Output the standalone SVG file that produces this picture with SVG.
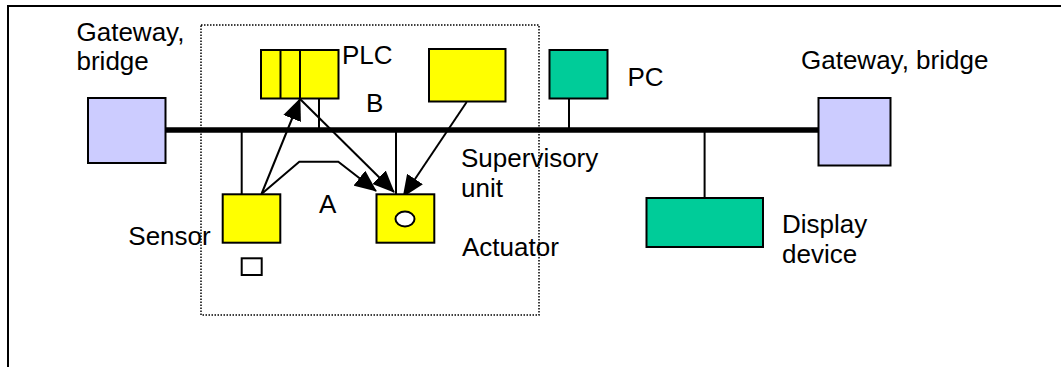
<svg xmlns="http://www.w3.org/2000/svg" width="1061" height="367" viewBox="0 0 1061 367">
  <style>
    text { font-family: "Liberation Sans", Arial, sans-serif; font-size: 26px; fill: #000; }
    .box { stroke: #000; stroke-width: 2; }
    .yellow { fill: #FFFF00; }
    .green { fill: #00CC99; }
    .gw { fill: #CCCCFF; }
    .wire { stroke: #000; stroke-width: 2; fill: none; }
    .arrow { stroke: #000; stroke-width: 2; fill: none; marker-end: url(#head); }
    .bus { stroke: #000; stroke-width: 5.5; }
  </style>
  <defs>
    <marker id="head" markerUnits="userSpaceOnUse" viewBox="0 0 22 19" refX="21" refY="9.5" markerWidth="22" markerHeight="19" orient="auto">
      <path d="M0,0 L22,9.5 L0,19 z" fill="#000"/>
    </marker>
  </defs>
  <rect width="1061" height="367" fill="#fff"/>
  <g id="frame">
    <rect x="8" y="6" width="1100" height="420" fill="none" stroke="#000" stroke-width="2"/>
  </g>
  <g id="domain">
    <rect x="201" y="25" width="338" height="290" fill="none" stroke="#000" stroke-width="1.5" stroke-dasharray="1.5 1.5"/>
  </g>
  <g id="connectors">
    <line class="bus" x1="165" y1="130" x2="819" y2="130"/>
    <line class="wire" x1="241.7" y1="130" x2="241.7" y2="194"/>
    <line class="wire" x1="319" y1="98" x2="319" y2="130"/>
    <line class="wire" x1="396" y1="130" x2="396" y2="194"/>
    <line class="wire" x1="569" y1="99" x2="569" y2="130"/>
    <line class="wire" x1="704.6" y1="130" x2="704.6" y2="198"/>
    <line class="arrow" x1="261.5" y1="194" x2="300" y2="99"/>
    <line class="arrow" x1="300" y1="99" x2="394" y2="192"/>
    <polyline class="arrow" points="261.5,194 299.3,161.7 338.3,161.7 376,191"/>
    <line class="arrow" x1="466.7" y1="102" x2="403.3" y2="196.5"/>
  </g>
  <g id="gateway-left">
    <rect class="box gw" x="88" y="98" width="77.5" height="65"/>
    <text x="76.5" y="41">Gateway,</text>
    <text x="76.5" y="70">bridge</text>
  </g>
  <g id="gateway-right">
    <rect class="box gw" x="818.5" y="98" width="72" height="67.5"/>
    <text x="801" y="68.5">Gateway, bridge</text>
  </g>
  <g id="plc">
    <rect class="box yellow" x="261" y="50" width="77.5" height="48.5"/>
    <line class="wire" x1="280.5" y1="50" x2="280.5" y2="98.5"/>
    <line class="wire" x1="300" y1="50" x2="300" y2="98.5"/>
    <text x="342" y="64">PLC</text>
  </g>
  <g id="supervisory">
    <rect class="box yellow" x="429" y="49" width="76.5" height="52.5"/>
    <text x="461" y="166.5">Supervisory</text>
    <text x="461" y="196.5">unit</text>
  </g>
  <g id="pc">
    <rect class="box green" x="549.5" y="50" width="58" height="48.5"/>
    <text x="627.5" y="86">PC</text>
  </g>
  <g id="display">
    <rect class="box green" x="646.5" y="198" width="116.5" height="49"/>
    <text x="782" y="233">Display</text>
    <text x="782" y="263">device</text>
  </g>
  <g id="sensor">
    <rect class="box yellow" x="222.7" y="194.3" width="57.6" height="48.4"/>
    <rect x="241.7" y="258.3" width="20" height="16.7" fill="#fff" stroke="#000" stroke-width="2"/>
    <text x="128.3" y="244.5">Sensor</text>
  </g>
  <g id="actuator">
    <rect class="box yellow" x="376.5" y="194.3" width="57.8" height="48.4"/>
    <ellipse cx="405" cy="219" rx="9.5" ry="7.5" fill="#fff" stroke="#000" stroke-width="2"/>
    <text x="462" y="256">Actuator</text>
  </g>
  <g id="labels">
    <text x="366" y="112">B</text>
    <text x="319" y="213.3">A</text>
  </g>
</svg>
